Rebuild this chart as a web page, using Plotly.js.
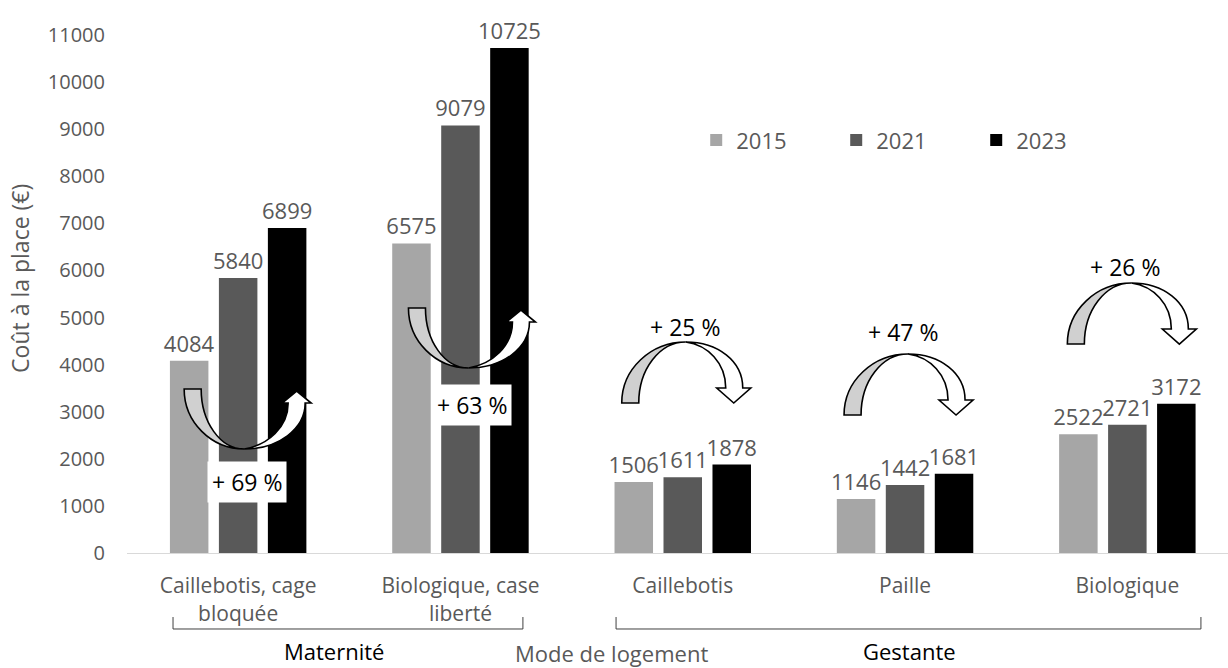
<!DOCTYPE html>
<html><head><meta charset="utf-8">
<script src="https://cdn.plot.ly/plotly-3.0.1.min.js"></script>
<style>html,body{margin:0;padding:0;background:#fff}</style>
</head><body><div id="chart" style="width:1228px;height:668px"></div>
<script>
// ---- data ----
const categories = ['Caillebotis, cage bloquée', 'Biologique, case liberté', 'Caillebotis', 'Paille', 'Biologique'];
const tickLabels = ['Caillebotis, cage<br>bloquée', 'Biologique, case<br>liberté', 'Caillebotis', 'Paille', 'Biologique'];
const years = ['2015', '2021', '2023'];
const v2015 = [4084, 6575, 1506, 1146, 2522];
const v2021 = [5840, 9079, 1611, 1442, 2721];
const v2023 = [6899, 10725, 1878, 1681, 3172];
const pctLabels = ['+ 69 %', '+ 63 %', '+ 25 %', '+ 47 %', '+ 26 %'];
const groupNames = ['Maternité', 'Gestante'];
const groupSpans = [[0, 1], [2, 4]];
const yTicks = [0, 1000, 2000, 3000, 4000, 5000, 6000, 7000, 8000, 9000, 10000, 11000];
const yTickText = yTicks.map(String);

// ---- layout constants ----
const W = 1228, H = 668;
const M = {l: 127, r: 0, t: 35, b: 115, autoexpand: false};
const plotW = W - M.l - M.r, plotH = H - M.t - M.b;
const catPx = 222.3;
const xRange = [-0.5, -0.5 + plotW / catPx];
const yRange = [0, 11000];
const xs = plotW / (xRange[1] - xRange[0]);
const ys = plotH / (yRange[1] - yRange[0]);
const FONT = 'Open Sans, sans-serif';
const GREY_TXT = '#595959';
const colors = ['#a6a6a6', '#595959', '#000000'];
const series = [v2015, v2021, v2023];
const xIdx = categories.map((c, i) => i);

const traces = series.map((vals, k) => ({
  type: 'bar', name: years[k], x: xIdx, y: vals,
  marker: {color: colors[k]},
  text: vals.map(String), textposition: 'outside', cliponaxis: false,
  constraintext: 'none',
  textfont: {family: FONT, size: 22, color: GREY_TXT},
  hoverinfo: 'skip'
}));

// ---- decorative curved arrows (shapes in pixel units around data anchors) ----
const arrowA = {
  gray: [['M',-54,0],['L',-37,0],['C',-37,33,-18,60,6,60],['C',-27,60,-54,33,-54,0],['Z']],
  white: [['M',6,60],['C',40,60,67,40,67,14],['L',73,14],['L',58.5,2],['L',44,14],['L',50,14],['C',50,38,30,56,6,60],['Z']]
};
const arrowB = {
  gray: [['M',-61,0],['L',-44,0],['C',-44,-34,-23,-61,3,-61],['C',-32,-61,-61,-34,-61,0],['Z']],
  white: [['M',3,-61],['C',35,-61,60,-42,60,-15],['L',68,-15],['L',51,0],['L',34,-15],['L',43,-15],['C',43,-40,25,-58,3,-61],['Z']]
};
function toPath(cmds, cx, cy) {
  return cmds.map(c => {
    if (c[0] === 'Z') return 'Z';
    const out = [];
    for (let j = 1; j < c.length; j += 2) {
      out.push((cx + c[j] / xs).toFixed(4) + ',' + (cy - c[j + 1] / ys).toFixed(1));
    }
    return c[0] + out.join(' ');
  }).join(' ');
}
// arrow anchors: [category index, x px shift, anchor value, type]
const arrowDefs = [[0, 0, 3482, 'A'], [1, 2, 5202, 'A'], [2, 0, 3185, 'B'], [3, 0, 2930, 'B'], [4, 1, 4437, 'B']];
// percent label positions: [x (category units), y value, boxed]
const pctPos = [[0.04, 1507, true], [1.052, 3142, true], [2.01, 4798, false], [2.99, 4692, false], [3.99, 6072, false]];

const shapes = [];
arrowDefs.forEach(d => {
  const sh = d[3] === 'A' ? arrowA : arrowB;
  const cx = d[0] + d[1] / xs;
  shapes.push({type: 'path', xref: 'x', yref: 'y', layer: 'above', path: toPath(sh.gray, cx, d[2]),
    fillcolor: '#d0d0d0', line: {color: '#000', width: 1.6}});
  shapes.push({type: 'path', xref: 'x', yref: 'y', layer: 'above', path: toPath(sh.white, cx, d[2]),
    fillcolor: '#ffffff', line: {color: '#000', width: 1.6}});
});

// brackets under the category labels
const bracketPad = [[-0.293, 0.281], [-0.300, 0.331]];
const yLine = -0.1467, yTop = -0.1236;
groupSpans.forEach((s, g) => {
  const x0 = s[0] + bracketPad[g][0], x1 = s[1] + bracketPad[g][1];
  shapes.push({type: 'path', xref: 'x', yref: 'paper',
    path: `M${x0},${yTop} L${x0},${yLine} L${x1},${yLine} L${x1},${yTop}`,
    line: {color: '#404040', width: 1}});
});

const annotations = [];
pctLabels.forEach((t, i) => {
  const p = pctPos[i];
  annotations.push({x: p[0], y: p[1], xref: 'x', yref: 'y', text: t, showarrow: false,
    xanchor: 'center', yanchor: 'middle', font: {family: FONT, size: 23, color: '#000'},
    bgcolor: p[2] ? '#ffffff' : 'rgba(0,0,0,0)', borderpad: p[2] ? 4 : 0});
});
const groupLabelX = [0.431, 3.02];
const yBottomLabels = -0.19;
groupNames.forEach((g, i) => {
  annotations.push({x: groupLabelX[i], y: yBottomLabels, xref: 'x', yref: 'paper', text: g, showarrow: false,
    xanchor: 'center', yanchor: 'middle', font: {family: FONT, size: 22, color: '#000'}});
});
annotations.push({x: 1.68, y: yBottomLabels - 0.004, xref: 'x', yref: 'paper', text: 'Mode de logement', showarrow: false,
  xanchor: 'center', yanchor: 'middle', font: {family: FONT, size: 22, color: GREY_TXT}});
annotations.push({x: -0.0972, y: 0.531, xref: 'paper', yref: 'paper', text: 'Coût à la place (€)', showarrow: false,
  textangle: -90, xanchor: 'center', yanchor: 'middle', font: {family: FONT, size: 23, color: GREY_TXT}});

const layout = {
  width: W, height: H, margin: M,
  paper_bgcolor: '#fff', plot_bgcolor: '#fff',
  font: {family: FONT, color: GREY_TXT},
  barmode: 'group', bargap: 0.339, bargroupgap: 0.214,
  showlegend: true,
  legend: {orientation: 'h', x: 0.517, y: 0.797, xanchor: 'left', yanchor: 'middle',
    entrywidth: 95, entrywidthmode: 'pixels', font: {family: FONT, size: 22, color: GREY_TXT},
    bgcolor: 'rgba(0,0,0,0)'},
  xaxis: {range: xRange, tickvals: xIdx, ticktext: tickLabels, showgrid: false, zeroline: false,
    showline: true, linecolor: '#d9d9d9', linewidth: 1, ticks: '', ticklabelstandoff: 14,
    tickfont: {family: FONT, size: 21, color: GREY_TXT}},
  yaxis: {range: yRange, tickvals: yTicks, ticktext: yTickText, showgrid: false, zeroline: false, showline: false,
    ticks: '', ticklabelstandoff: 21, tickfont: {family: FONT, size: 20, color: GREY_TXT}},
  shapes: shapes, annotations: annotations
};
Plotly.newPlot('chart', traces, layout, {staticPlot: true, displayModeBar: false});
</script></body></html>
